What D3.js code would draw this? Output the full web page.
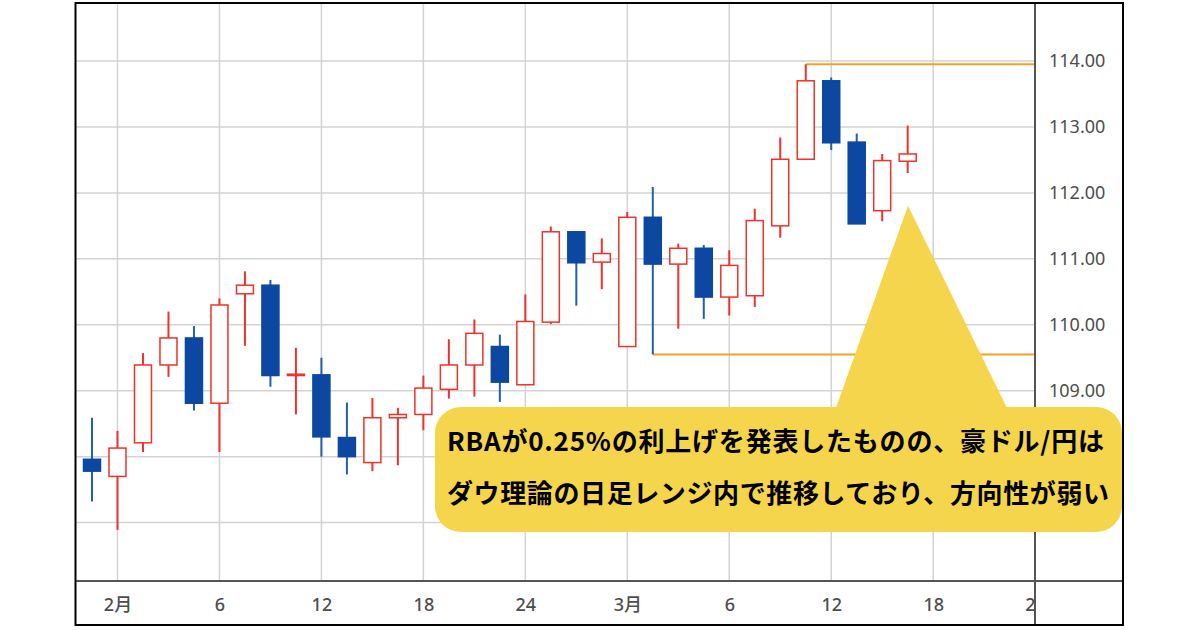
<!DOCTYPE html>
<html>
<head>
<meta charset="utf-8">
<script src="https://cdn.jsdelivr.net/npm/d3@7"></script>
<style>
  body { margin: 0; background: #fff; }
  svg { display: block; }
</style>
</head>
<body>
<script>
// daily candles, AUD/JPY (index 0 = last bar of Jan)
var openP  = [107.96, 107.70, 108.21, 109.39, 109.80, 108.81, 110.47, 110.60, 109.23, 109.24, 108.29,
              107.91, 108.59, 108.64, 109.02, 109.39, 109.67, 109.09, 110.04, 111.41, 110.95, 109.67,
              111.63, 110.92, 111.16, 110.42, 110.44, 111.50, 112.51, 113.70, 112.77, 111.73, 112.48];
var highP  = [108.59, 108.39, 109.57, 110.20, 109.98, 110.40, 110.81, 110.68, 109.65, 109.50, 108.82,
              108.89, 108.74, 109.23, 109.78, 110.08, 109.85, 110.46, 111.49, 111.41, 111.31, 111.71,
              112.09, 111.23, 111.21, 111.13, 111.76, 112.84, 113.95, 113.75, 112.90, 112.59, 113.02];
var lowP   = [107.32, 106.89, 108.07, 109.21, 108.70, 108.07, 109.68, 109.06, 108.64, 108.00, 107.73,
              107.78, 107.87, 108.40, 108.88, 108.91, 108.83, 109.09, 110.01, 110.29, 110.54, 109.67,
              109.55, 109.94, 110.09, 110.14, 110.27, 111.32, 112.51, 112.65, 111.53, 111.57, 112.30];
var closeP = [107.78, 108.13, 109.39, 109.80, 108.81, 110.30, 110.60, 109.23, 109.25, 108.30, 108.00,
              108.59, 108.64, 109.04, 109.39, 109.87, 109.13, 110.05, 111.41, 110.94, 111.08, 111.63,
              110.92, 111.16, 110.42, 110.90, 111.58, 112.51, 113.70, 112.76, 111.53, 112.49, 112.59];

var xTickIdx    = [1, 5, 9, 13, 17, 21, 25, 29, 33, 37];
var xTickLabels = ["2月", "6", "12", "18", "24", "3月", "6", "12", "18", "24"];
var yTicks      = [109, 110, 111, 112, 113, 114];
var yGrid       = [107, 108, 109, 110, 111, 112, 113, 114];

// range lines (start bar, price)
var levelStart = [28, 22];
var levelPrice = [113.95, 109.55];

var noteLines = ["RBAが0.25%の利上げを発表したものの、豪ドル/円は",
                 "ダウ理論の日足レンジ内で推移しており、方向性が弱い"];

var width = 1200, height = 630;
var pL = 76, pT = 3, pR = 1035, pB = 581;
var frameR = 1123, frameB = 625;

var svg = d3.select("body").append("svg")
    .attr("width", width)
    .attr("height", height);

var x = d3.scaleLinear().domain([0, 32]).range([92, 907.7]);
var y = d3.scaleLinear().domain([109, 114]).range([390.7, 61]);

var upCol = "#f0322b", downCol = "#0c47a1", downWick = "#1f5fb4";
var bodyW = 17;

var defs = svg.append("defs");
defs.append("clipPath").attr("id", "plotclip")
   .append("rect").attr("x", pL).attr("y", pT)
   .attr("width", pR - pL).attr("height", pB - pT);
defs.append("clipPath").attr("id", "xclip")
   .append("rect").attr("x", pL).attr("y", pB)
   .attr("width", pR - pL).attr("height", frameB - pB);

var plot = svg.append("g").attr("clip-path", "url(#plotclip)");

// grid
plot.selectAll(".hg").data(yGrid).enter().append("line")
    .attr("x1", pL).attr("x2", pR)
    .attr("y1", function(d) { return y(d); })
    .attr("y2", function(d) { return y(d); })
    .attr("stroke", "#d3d3d3").attr("stroke-width", 1.5);
plot.selectAll(".vg").data(xTickIdx).enter().append("line")
    .attr("x1", function(d) { return x(d); })
    .attr("x2", function(d) { return x(d); })
    .attr("y1", pT).attr("y2", pB)
    .attr("stroke", "#d3d3d3").attr("stroke-width", 1.5);

// range lines
plot.selectAll(".lvl").data(levelPrice).enter().append("line")
    .attr("x1", function(d, i) { return x(levelStart[i]); })
    .attr("x2", pR)
    .attr("y1", function(d) { return y(d); })
    .attr("y2", function(d) { return y(d); })
    .attr("stroke", "#f4a028").attr("stroke-width", 2);

// candles
var idx = d3.range(openP.length);
var c = plot.selectAll(".candle").data(idx).enter().append("g");
c.append("line")
    .attr("x1", function(i) { return x(i); })
    .attr("x2", function(i) { return x(i); })
    .attr("y1", function(i) { return y(highP[i]); })
    .attr("y2", function(i) { return y(lowP[i]); })
    .attr("stroke", function(i) { return closeP[i] >= openP[i] ? upCol : downWick; })
    .attr("stroke-width", 2);
c.append("rect")
    .attr("x", function(i) { return x(i) - bodyW / 2; })
    .attr("y", function(i) { return y(Math.max(openP[i], closeP[i])); })
    .attr("width", bodyW)
    .attr("height", function(i) { return Math.max(1, Math.abs(y(openP[i]) - y(closeP[i]))); })
    .attr("fill", function(i) { return closeP[i] >= openP[i] ? "#fff" : downCol; })
    .attr("stroke", function(i) { return closeP[i] >= openP[i] ? upCol : downCol; })
    .attr("stroke-width", 1.5);

// axes
var yAxis = d3.axisRight(y).tickValues(yTicks).tickFormat(d3.format(".2f"))
    .tickSize(0).tickPadding(14);
svg.append("g")
   .attr("transform", "translate(" + pR + ",0)")
   .call(yAxis)
   .call(function(g) { g.select(".domain").remove(); })
   .selectAll("text")
   .attr("fill", "#4d4d4d")
   .style("font-family", "'Noto Sans', sans-serif")
   .style("font-size", "18px");

var xAxis = d3.axisBottom(x).tickValues(xTickIdx)
    .tickFormat(function(d, i) { return xTickLabels[i]; })
    .tickSize(0).tickPadding(17);
svg.append("g")
   .attr("clip-path", "url(#xclip)")
   .append("g")
   .attr("transform", "translate(0," + pB + ")")
   .call(xAxis)
   .call(function(g) { g.select(".domain").remove(); })
   .selectAll("text")
   .attr("fill", "#4d4d4d")
   .style("font-family", "'Noto Sans', 'Noto Sans CJK JP', sans-serif")
   .style("font-weight", "500")
   .style("font-size", "18px");

// axis lines
svg.append("line").attr("x1", pL).attr("x2", frameR)
   .attr("y1", pB).attr("y2", pB)
   .attr("stroke", "#555").attr("stroke-width", 2);
svg.append("line").attr("x1", pR).attr("x2", pR)
   .attr("y1", pT).attr("y2", frameB)
   .attr("stroke", "#555").attr("stroke-width", 2);

// frame
svg.append("rect").attr("x", 75.5).attr("y", 3)
   .attr("width", frameR - 75.5).attr("height", frameB - 3)
   .attr("fill", "none").attr("stroke", "#000").attr("stroke-width", 2);

// callout
var note = svg.append("g");
note.append("path")
    .attr("d", "M908,205.7 L1007,408 L836,408 Z")
    .attr("fill", "#f4d54b");
note.append("rect")
    .attr("x", 435).attr("y", 407).attr("width", 687).attr("height", 125)
    .attr("rx", 26).attr("ry", 26)
    .attr("fill", "#f4d54b");
note.selectAll("text").data(noteLines).enter().append("text")
    .attr("x", 447)
    .attr("y", function(d, i) { return 451 + i * 52; })
    .attr("textLength", function(d, i) { return i === 0 ? 657 : 662; })
    .attr("lengthAdjust", "spacing")
    .attr("fill", "#000")
    .style("font-family", "'Noto Sans CJK JP', sans-serif")
    .style("font-weight", "bold")
    .style("font-size", "26px")
    .text(function(d) { return d; });
</script>
</body>
</html>
